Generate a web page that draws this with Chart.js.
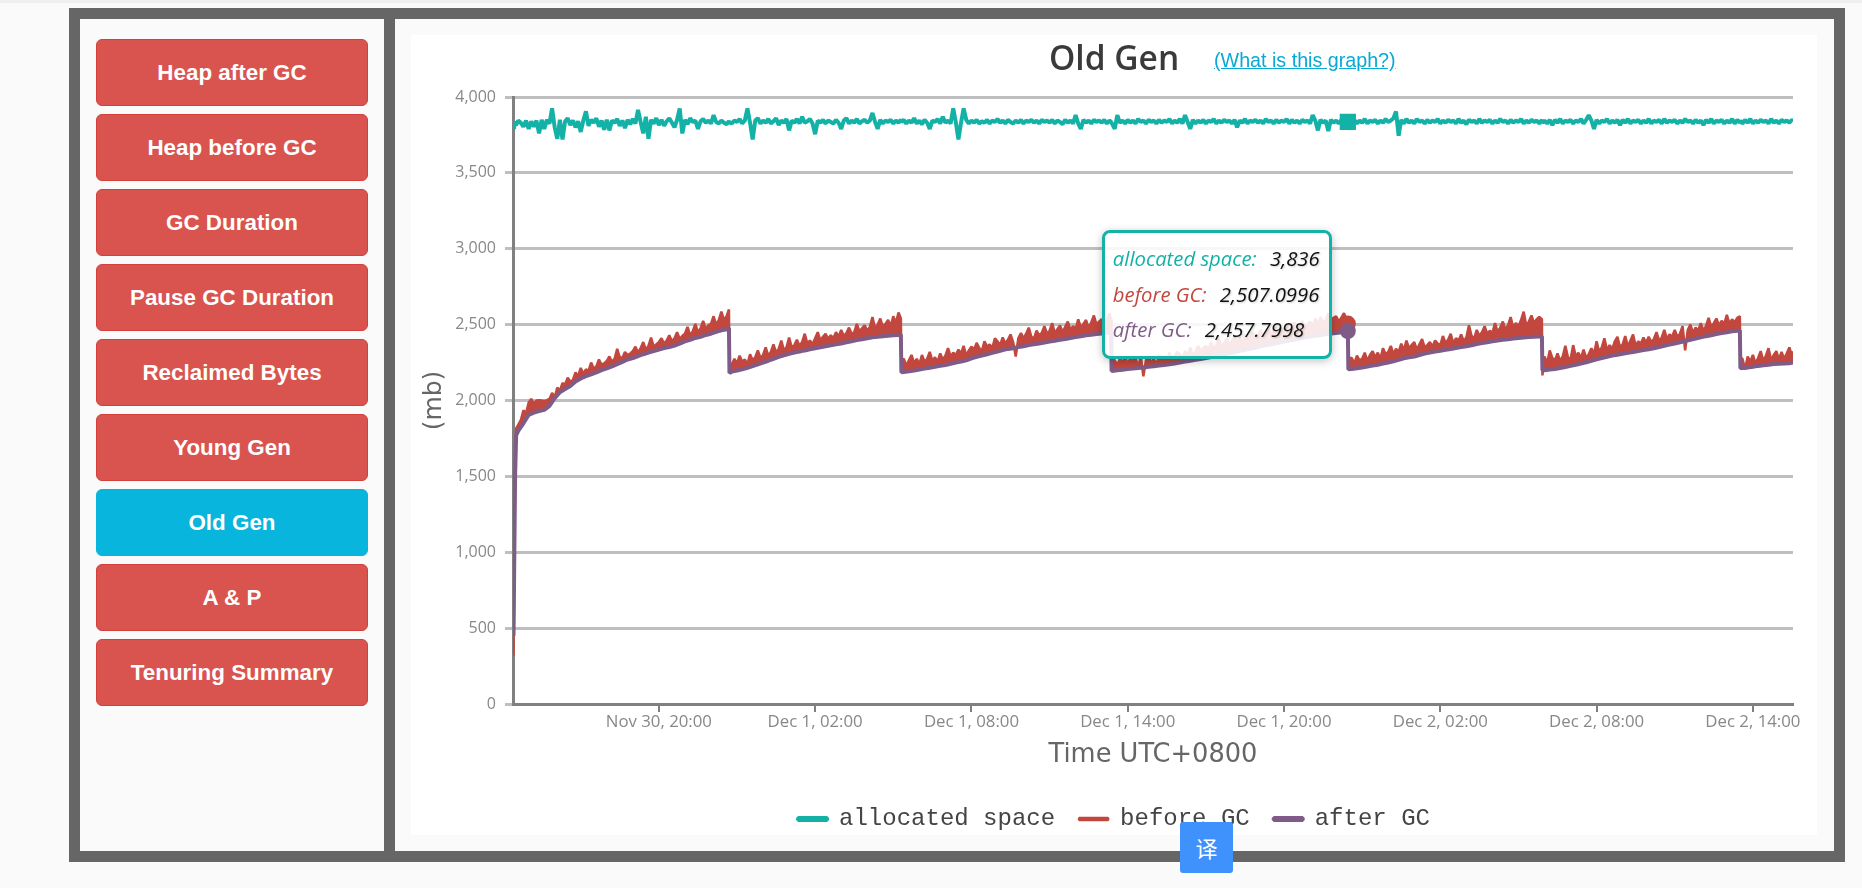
<!DOCTYPE html>
<html>
<head>
<meta charset="utf-8">
<title>Old Gen</title>
<script src="https://cdn.jsdelivr.net/npm/chart.js@4/dist/chart.umd.min.js"></script>
<style>
  html, body { margin: 0; padding: 0; width: 1862px; height: 888px; overflow: hidden; background: #fafafa; }
  #topStrip { position: absolute; left: 0; top: 0; width: 1862px; height: 3px; background: #efefef; }
  #frame { position: absolute; left: 69px; top: 8px; width: 1776px; height: 854px; background: #666; }
  #sidePanel { position: absolute; left: 80px; top: 19px; width: 304px; height: 832px; background: #fafafa; }
  #mainPanel { position: absolute; left: 395px; top: 19px; width: 1439px; height: 832px; background: #fafafa; }
  #chartPanel { position: absolute; left: 411px; top: 35px; width: 1406px; height: 800px; background: #fff; }
  #chartWrap { position: absolute; left: 411px; top: 35px; width: 1406px; height: 806px; }
  .btn {
    position: absolute; left: 96px; width: 272px; height: 67px; box-sizing: border-box;
    background: #d9534f; border: 1px solid #d43f3a; border-radius: 6px; color: #fff;
    font: bold 22.4px "Liberation Sans", Arial, sans-serif; line-height: 66px; text-align: center;
  }
  .btn.active { background: #08b5dd; border-color: #08b5dd; }
  #title { position: absolute; left: 1049px; top: 34px; color: #3a3a3a; font: 600 33.5px "Open Sans", sans-serif; line-height: 46px; }
  #whatLink { position: absolute; left: 1214px; top: 49px; color: #08a9d6; font: 19.7px "Liberation Sans", Arial, sans-serif; line-height: 22px; text-decoration: underline; }
  #tip {
    position: absolute; top: 230px; width: 230px; height: 129px; box-sizing: border-box; padding: 8px 0 0 8px;
    background: rgba(255, 255, 255, 0.88); border: 3px solid #14b1a7; border-radius: 8px;
    box-shadow: 0 2px 8px rgba(0, 0, 0, 0.25); font: italic 20.3px "Open Sans", sans-serif; line-height: 35.5px; white-space: nowrap;
  }
  #tip b { font-weight: normal; color: #111; margin-left: 8px; text-shadow: 1px 1px 2px rgba(0, 0, 0, 0.2); }
  #translate {
    position: absolute; left: 1180px; top: 822px; width: 53px; height: 51px; background: #3f92fb; border-radius: 3px;
    color: #fff; font: 22px "Noto Sans CJK SC", sans-serif; line-height: 51px; text-align: center;
  }
</style>
</head>
<body>
<div id="topStrip"></div>
<div id="frame"></div>
<div id="sidePanel"></div>
<div id="mainPanel"></div>
<div id="chartPanel"></div>
<div id="buttons"></div>
<div id="chartWrap"><canvas id="old-gen-chart" width="1406" height="806"></canvas></div>
<div id="title">Old Gen</div>
<a id="whatLink">(What is this graph?)</a>
<div id="tip"></div>
<div id="translate">译</div>

<script>
const menuItems = ['Heap after GC', 'Heap before GC', 'GC Duration', 'Pause GC Duration', 'Reclaimed Bytes', 'Young Gen', 'Old Gen', 'A & P', 'Tenuring Summary'];

// hours since Nov 30 00:00, used by allocatedSpace and beforeGC
const gcHours = [
  14.42,14.44,14.48,14.52,14.6,14.7,14.8,14.9,
  15,15.1,15.2,15.3,15.4,15.5,15.6,15.7,15.8,15.9,
  16,16.1,16.2,16.3,16.4,16.5,16.6,16.7,16.8,16.9,
  17,17.1,17.2,17.3,17.4,17.5,17.6,17.7,17.8,17.9,
  18,18.1,18.2,18.3,18.4,18.5,18.6,18.7,18.8,18.9,
  19,19.1,19.2,19.3,19.4,19.5,19.6,19.7,19.8,19.9,
  20,20.1,20.2,20.3,20.4,20.5,20.6,20.7,20.8,20.9,
  21,21.1,21.2,21.3,21.4,21.5,21.6,21.7,21.8,21.9,
  22,22.1,22.2,22.3,22.4,22.5,22.6,22.69,22.71,
  22.8,22.9,
  23,23.1,23.2,23.3,23.4,23.5,23.6,23.7,23.8,23.9,
  24,24.1,24.2,24.3,24.4,24.5,24.6,24.7,24.8,24.9,
  25,25.1,25.2,25.3,25.4,25.5,25.6,25.7,25.8,25.9,
  26,26.1,26.2,26.3,26.4,26.5,26.6,26.7,26.8,26.9,
  27,27.1,27.2,27.3,27.4,27.5,27.6,27.7,27.8,27.9,
  28,28.1,28.2,28.3,28.4,28.5,28.6,28.7,28.8,28.9,
  29,29.1,29.2,29.29,29.31,
  29.4,29.5,29.6,29.7,29.8,29.9,
  30,30.1,30.2,30.3,30.4,30.5,30.6,30.7,30.8,30.9,
  31,31.1,31.2,31.3,31.4,31.5,31.6,31.7,31.8,31.9,
  32,32.1,32.2,32.3,32.4,32.5,32.6,32.7,32.8,32.9,
  33,33.1,33.2,33.3,33.4,33.5,33.6,33.7,33.8,33.9,
  34,34.1,34.2,34.3,34.4,34.5,34.6,34.7,34.8,34.9,
  35,35.1,35.2,35.3,35.4,35.5,35.6,35.7,35.8,35.9,
  36,36.1,36.2,36.3,36.4,36.5,36.6,36.7,36.8,36.9,
  37,37.1,37.2,37.3,37.36,37.38,
  37.5,37.6,37.7,37.8,37.9,
  38,38.1,38.2,38.3,38.4,38.5,38.6,38.7,38.8,38.9,
  39,39.1,39.2,39.3,39.4,39.5,39.6,39.7,39.8,39.9,
  40,40.1,40.2,40.3,40.4,40.5,40.6,40.7,40.8,40.9,
  41,41.1,41.2,41.3,41.4,41.5,41.6,41.7,41.8,41.9,
  42,42.1,42.2,42.3,42.4,42.5,42.6,42.7,42.8,42.9,
  43,43.1,43.2,43.3,43.4,43.5,43.6,43.7,43.8,43.9,
  44,44.1,44.2,44.3,44.4,44.5,44.6,44.7,44.8,44.9,
  45,45.1,45.2,45.3,45.4,45.5,45.6,45.7,45.8,45.9,
  46,46.1,46.2,46.3,46.4,46.45,46.47,
  46.6,46.7,46.8,46.9,
  47,47.1,47.2,47.3,47.4,47.5,47.6,47.7,47.8,47.9,
  48,48.1,48.2,48.3,48.4,48.5,48.6,48.7,48.8,48.9,
  49,49.1,49.2,49.3,49.4,49.5,49.6,49.7,49.8,49.9,
  50,50.1,50.2,50.3,50.4,50.5,50.6,50.7,50.8,50.9,
  51,51.1,51.2,51.3,51.4,51.5,51.6,51.7,51.8,51.9,
  52,52.1,52.2,52.3,52.4,52.5,52.6,52.7,52.8,52.9,
  53,53.1,53.2,53.3,53.4,53.5,53.6,53.7,53.8,53.9,53.92,
  54,54.1,54.2,54.3,54.4,54.5,54.6,54.7,54.8,54.9,
  55,55.1,55.2,55.3,55.4,55.5,55.6,55.7,55.8,55.9,
  56,56.1,56.2,56.3,56.4,56.5,56.6,56.7,56.8,56.9,
  57,57.1,57.2,57.3,57.4,57.5,57.6,57.7,57.8,57.9,
  58,58.1,58.2,58.3,58.4,58.5,58.6,58.7,58.8,58.9,
  59,59.1,59.2,59.3,59.4,59.5,59.6,59.7,59.8,59.9,
  60,60.1,60.2,60.3,60.4,60.5,60.6,60.7,60.8,60.9,
  61,61.1,61.2,61.3,61.4,61.5,61.52,
  61.6,61.7,61.8,61.9,
  62,62.1,62.2,62.3,62.4,62.5,62.6,62.7,62.8,62.9,
  63,63.1,63.2,63.3,63.4,63.5,63.54
];

const allocatedSpace = [
  3830,3790,3840,3815,3845,3830,3805,3845,
  3790,3840,3805,3845,3760,3850,3790,3850,3825,3925,
  3800,3725,3850,3720,3840,3860,3815,3845,3800,3840,
  3770,3845,3905,3810,3850,3830,3860,3805,3845,3785,
  3850,3780,3845,3830,3855,3810,3845,3795,3850,3820,
  3855,3825,3915,3835,3760,3870,3725,3850,3825,3860,
  3815,3850,3810,3840,3860,3830,3800,3850,3925,3760,
  3850,3820,3860,3835,3845,3790,3840,3855,3830,3845,
  3825,3880,3835,3825,3845,3830,3820,3840,3835,
  3825,3845,
  3835,3855,3825,3845,3925,3830,3720,3845,3860,3825,
  3845,3830,3855,3825,3840,3860,3815,3845,3830,3855,
  3780,3845,3830,3855,3825,3870,3830,3840,3855,3825,
  3755,3845,3830,3850,3825,3845,3835,3825,3850,3830,
  3790,3845,3860,3825,3845,3830,3855,3825,3840,3850,
  3830,3845,3895,3835,3790,3850,3825,3845,3835,3850,
  3825,3845,3830,3850,3835,
  3850,3825,3845,3830,3860,3825,
  3845,3820,3850,3830,3790,3845,3835,3855,3825,3870,
  3830,3845,3825,3925,3835,3720,3830,3925,3850,3825,
  3845,3830,3850,3825,3840,3830,3850,3825,3845,3835,
  3855,3830,3845,3825,3850,3835,3825,3845,3830,3850,
  3825,3845,3835,3850,3830,3845,3825,3850,3835,3845,
  3830,3850,3825,3845,3835,3820,3850,3830,3845,3825,
  3880,3825,3790,3850,3830,3845,3825,3850,3835,3845,
  3830,3850,3825,3845,3835,3830,
  3790,3880,3830,3845,3825,
  3850,3830,3845,3825,3855,3835,3845,3825,3850,3835,
  3845,3825,3850,3830,3845,3835,3855,3825,3845,3830,
  3855,3825,3880,3835,3790,3850,3825,3845,3830,3850,
  3825,3845,3835,3855,3825,3845,3830,3850,3835,3845,
  3825,3850,3800,3845,3830,3855,3825,3845,3835,3850,
  3830,3845,3825,3855,3835,3845,3825,3850,3830,3845,
  3835,3855,3825,3850,3830,3845,3825,3850,3835,3845,
  3825,3880,3845,3780,3850,3830,3845,3775,3850,3830,
  3845,3825,3850,3830,3845,3836,3845,
  3830,3850,3825,3845,
  3830,3855,3825,3845,3835,3850,3825,3845,3830,3855,
  3835,3845,3860,3905,3745,3850,3825,3855,3830,3845,
  3825,3855,3835,3845,3825,3850,3830,3845,3835,3855,
  3825,3845,3830,3850,3835,3845,3825,3855,3830,3845,
  3820,3850,3835,3845,3825,3855,3830,3845,3835,3850,
  3825,3845,3830,3855,3835,3845,3825,3850,3830,3845,
  3835,3855,3825,3845,3830,3850,3835,3845,3825,3850,3830,
  3845,3825,3850,3815,3850,3830,3855,3825,3845,3835,
  3850,3825,3845,3835,3855,3825,3850,3880,3845,3790,
  3850,3825,3845,3835,3855,3825,3845,3830,3850,3815,
  3850,3830,3855,3825,3845,3835,3850,3825,3845,3830,
  3855,3825,3845,3835,3850,3825,3855,3830,3845,3835,
  3850,3825,3845,3830,3855,3835,3845,3825,3850,3830,
  3845,3815,3850,3830,3855,3825,3845,3835,3850,3825,
  3845,3830,3855,3825,3850,3830,3845,
  3825,3850,3830,3855,
  3825,3845,3830,3850,3835,3845,3825,3855,3830,3845,
  3825,3850,3835,3845,3830,3850,3840
];

const beforeGC = [
  320,700,1600,1815,1840,1870,1935,1915,
  1985,2010,1980,2000,2002,2000,1995,2002,2010,2050,
  2020,2085,2065,2115,2105,2150,2125,2135,2185,2160,
  2215,2175,2205,2195,2250,2210,2225,2270,2235,2245,
  2260,2290,2255,2275,2340,2285,2280,2320,2300,2310,
  2325,2355,2315,2345,2385,2335,2360,2415,2355,2370,
  2385,2410,2375,2395,2430,2390,2410,2450,2405,2425,
  2440,2485,2430,2455,2505,2450,2475,2525,2470,2495,
  2505,2555,2500,2530,2585,2530,2555,2600,2250,
  2235,2275,
  2245,2295,2255,2270,2240,2305,2265,2285,2330,2280,
  2300,2350,2295,2320,2370,2315,2340,2395,2330,2350,
  2415,2350,2365,2400,2360,2385,2440,2375,2395,2370,
  2410,2450,2395,2420,2440,2405,2430,2410,2450,2420,
  2465,2425,2445,2480,2440,2450,2505,2455,2475,2495,
  2460,2485,2550,2475,2500,2540,2485,2505,2530,2490,
  2555,2510,2580,2540,2260,
  2275,2230,2265,2300,2245,2275,
  2240,2300,2255,2275,2320,2260,2285,2255,2310,2270,
  2295,2345,2290,2315,2300,2335,2310,2360,2295,2330,
  2355,2335,2380,2345,2325,2390,2355,2370,2345,2410,
  2390,2365,2415,2375,2400,2435,2385,2290,2410,2445,
  2410,2440,2480,2420,2410,2460,2430,2445,2490,2440,
  2460,2510,2445,2470,2495,2450,2485,2520,2465,2490,
  2470,2535,2480,2505,2530,2475,2515,2560,2500,2520,
  2535,2500,2530,2575,2535,2270,
  2265,2235,2275,2250,2290,
  2240,2280,2255,2285,2215,2295,2160,2265,2290,2250,
  2275,2235,2300,2265,2285,2255,2315,2280,2295,2320,
  2305,2285,2325,2300,2350,2300,2320,2360,2325,2345,
  2360,2335,2385,2340,2365,2400,2355,2380,2410,2365,
  2395,2420,2375,2415,2370,2435,2390,2410,2450,2410,
  2430,2465,2415,2445,2480,2430,2460,2485,2445,2470,
  2460,2500,2450,2490,2515,2465,2490,2525,2480,2500,
  2520,2485,2540,2500,2550,2510,2530,2575,2520,2545,
  2555,2520,2545,2575,2535,2507.0996,2280,
  2280,2245,2295,2265,
  2275,2315,2260,2300,2325,2285,2315,2275,2345,2305,
  2320,2360,2305,2340,2320,2375,2330,2395,2345,2365,
  2385,2335,2370,2405,2350,2365,2385,2355,2395,2375,
  2365,2425,2380,2400,2440,2375,2410,2395,2435,2390,
  2415,2495,2425,2410,2465,2425,2450,2490,2440,2460,
  2445,2510,2450,2480,2520,2465,2495,2550,2480,2510,
  2490,2530,2585,2495,2520,2560,2510,2535,2550,2535,2165,
  2290,2245,2330,2280,2265,2310,2260,2290,2360,2285,
  2270,2365,2290,2315,2280,2335,2280,2305,2345,2305,
  2390,2320,2350,2410,2330,2365,2340,2390,2420,2350,
  2370,2425,2355,2395,2435,2360,2390,2375,2415,2380,
  2420,2385,2405,2450,2395,2415,2465,2405,2435,2420,
  2465,2420,2440,2490,2330,2465,2500,2445,2480,2460,
  2510,2460,2490,2545,2485,2510,2540,2495,2525,2505,
  2565,2505,2535,2515,2545,2555,2280,
  2275,2205,2290,2255,
  2300,2245,2280,2325,2260,2295,2345,2265,2300,2325,
  2270,2320,2275,2310,2350,2295,2325
];

const afterHours = [
  14.42,14.44,14.48,14.52,14.6,14.8,15,15.2,15.4,15.6,
  15.8,16,16.2,16.4,16.6,16.8,17,17.2,17.4,17.6,
  17.8,18,18.2,18.4,18.6,18.8,19,19.2,19.4,19.6,
  19.8,20,20.2,20.4,20.6,20.8,21,21.2,21.4,21.6,
  21.8,22,22.2,22.4,22.6,22.69,22.71,
  22.8,23,23.2,23.4,23.6,23.8,24,24.2,24.4,24.6,
  24.8,25,25.2,25.4,25.6,25.8,26,26.2,26.4,26.6,
  26.8,27,27.2,27.4,27.6,27.8,28,28.2,28.4,28.6,
  28.8,29,29.2,29.29,29.31,
  29.4,29.6,29.8,30,30.2,30.4,30.6,30.8,31,31.2,
  31.4,31.6,31.8,32,32.2,32.4,32.6,32.8,33,33.2,
  33.4,33.6,33.8,34,34.2,34.4,34.6,34.8,35,35.2,
  35.4,35.6,35.8,36,36.2,36.4,36.6,36.8,37,37.2,
  37.36,37.38,
  37.6,37.8,38,38.2,38.4,38.6,38.8,39,39.2,39.4,
  39.6,39.8,40,40.2,40.4,40.6,40.8,41,41.2,41.4,
  41.6,41.8,42,42.2,42.4,42.6,42.8,43,43.2,43.4,
  43.6,43.8,44,44.2,44.4,44.6,44.8,45,45.2,45.4,
  45.6,45.8,46,46.2,46.4,46.45,46.47,
  46.6,46.8,47,47.2,47.4,47.6,47.8,48,48.2,48.4,
  48.6,48.8,49,49.2,49.4,49.6,49.8,50,50.2,50.4,
  50.6,50.8,51,51.2,51.4,51.6,51.8,52,52.2,52.4,
  52.6,52.8,53,53.2,53.4,53.6,53.8,53.9,53.92,
  54,54.2,54.4,54.6,54.8,55,55.2,55.4,55.6,55.8,
  56,56.2,56.4,56.6,56.8,57,57.2,57.4,57.6,57.8,
  58,58.2,58.4,58.6,58.8,59,59.2,59.4,59.6,59.8,
  60,60.2,60.4,60.6,60.8,61,61.2,61.4,61.5,61.52,
  61.6,61.8,62,62.2,62.4,62.6,62.8,63,63.2,63.4,63.54
];

const afterGC = [
  450,800,1500,1770,1800,1850,1905,1920,1930,1938,
  1965,2015,2055,2075,2095,2125,2145,2160,2172,2185,
  2200,2212,2225,2240,2255,2270,2280,2293,2305,2315,
  2325,2335,2345,2352,2362,2375,2390,2400,2412,2420,
  2432,2440,2452,2462,2470,2478,2182,
  2190,2198,2206,2215,2226,2238,2250,2262,2275,2288,
  2298,2308,2316,2322,2330,2337,2344,2350,2357,2364,
  2370,2376,2384,2390,2398,2404,2410,2416,2420,2424,
  2427,2430,2432,2434,2186,
  2188,2192,2197,2204,2210,2216,2222,2228,2234,2242,
  2250,2256,2265,2278,2288,2296,2305,2314,2322,2332,
  2340,2345,2352,2358,2365,2370,2376,2382,2388,2394,
  2400,2405,2412,2418,2424,2430,2434,2438,2442,2445,
  2450,2195,
  2200,2203,2207,2210,2214,2218,2222,2225,2230,2234,
  2238,2244,2250,2256,2262,2268,2274,2280,2287,2294,
  2300,2307,2314,2322,2330,2337,2344,2352,2360,2367,
  2374,2381,2388,2395,2402,2408,2415,2421,2427,2432,
  2437,2441,2445,2450,2454,2457.7998,2205,
  2208,2212,2218,2224,2230,2236,2243,2250,2258,2268,
  2278,2284,2290,2300,2310,2316,2322,2328,2334,2340,
  2346,2352,2358,2364,2372,2378,2384,2390,2395,2400,
  2404,2408,2412,2415,2418,2420,2422,2424,2200,
  2200,2204,2208,2214,2220,2228,2236,2244,2252,2262,
  2272,2280,2288,2296,2302,2308,2314,2320,2326,2332,
  2338,2344,2352,2360,2368,2376,2384,2392,2400,2408,
  2416,2424,2430,2438,2444,2450,2456,2460,2462,2212,
  2214,2218,2222,2228,2232,2236,2240,2242,2244,2246,2250
];

const xTickHours = [20, 26, 32, 38, 44, 50, 56, 62];
const xTickLabels = ['Nov 30, 20:00', 'Dec 1, 02:00', 'Dec 1, 08:00', 'Dec 1, 14:00', 'Dec 1, 20:00', 'Dec 2, 02:00', 'Dec 2, 08:00', 'Dec 2, 14:00'];
const hoveredHour = 46.45;

const teal = '#14b1a7';
const red = '#c1473f';
const purple = '#7e5c87';

menuItems.forEach((name, i) => {
  const btn = document.createElement('div');
  btn.className = name === 'Old Gen' ? 'btn active' : 'btn';
  btn.style.top = (39 + i * 75) + 'px';
  btn.textContent = name;
  document.getElementById('buttons').appendChild(btn);
});

function drawTip(context) {
  const tip = document.getElementById('tip');
  const tooltip = context.tooltip;
  if (!tooltip.dataPoints) return;
  tip.innerHTML = tooltip.dataPoints.map(p =>
    '<div style="color:' + p.dataset.borderColor + '">' + p.dataset.label + ': <b>' +
    p.parsed.y.toLocaleString('en-US', { maximumFractionDigits: 4 }) + '</b></div>').join('');
  tip.style.left = (411 + tooltip.caretX - 246) + 'px';
}

function series(label, hours, values, color, width, order, pointStyle, hoverRadius) {
  return {
    label: label,
    data: values.map((y, i) => ({ x: hours[i], y: y })),
    borderColor: color,
    backgroundColor: color,
    borderWidth: width,
    borderJoinStyle: 'bevel',
    tension: 0,
    order: order,
    pointRadius: 0,
    pointStyle: pointStyle,
    pointHoverRadius: hoverRadius,
    pointHoverBackgroundColor: color,
    pointHoverBorderColor: color,
    pointHoverBorderWidth: 0
  };
}

// the before GC band is solid down to the after GC line
const beforeSeries = series('before GC', gcHours, beforeGC, red, 2.5, 2, 'circle', 8);
beforeSeries.fill = { target: 2, above: red, below: red };

const chart = new Chart(document.getElementById('old-gen-chart').getContext('2d'), {
  type: 'line',
  data: {
    datasets: [
      series('allocated space', gcHours, allocatedSpace, teal, 4, 3, 'rect', 11.5),
      beforeSeries,
      series('after GC', afterHours, afterGC, purple, 4, 1, 'circle', 8)
    ]
  },
  options: {
    responsive: false,
    animation: false,
    events: [],
    layout: { padding: { top: 62, right: 24, left: 24 } },
    plugins: {
      legend: {
        position: 'bottom',
        labels: {
          boxWidth: 29,
          boxHeight: 2,
          padding: 24,
          color: '#444',
          font: { family: '"Liberation Mono", monospace', size: 24 },
          sort: (a, b) => a.datasetIndex - b.datasetIndex
        }
      },
      tooltip: { enabled: false, mode: 'index', external: drawTip }
    },
    scales: {
      x: {
        type: 'linear',
        min: 14.4,
        max: 63.54,
        afterBuildTicks: scale => { scale.ticks = xTickHours.map(h => ({ value: h })); },
        afterFit: scale => { scale.height = 79; },
        ticks: {
          autoSkip: false,
          maxRotation: 0,
          color: '#888',
          font: { family: '"Open Sans", sans-serif', size: 16.8 },
          padding: 0,
          callback: (value, i) => xTickLabels[i]
        },
        grid: { drawOnChartArea: false, tickColor: '#808080', tickLength: 8, lineWidth: 2 },
        border: { color: '#808080', width: 3 },
        title: {
          display: true,
          text: 'Time UTC+0800',
          color: '#666',
          font: { family: '"DejaVu Sans", sans-serif', size: 25.7 },
          padding: { top: 2, bottom: 12 }
        }
      },
      y: {
        min: 0,
        max: 4000,
        afterFit: scale => { scale.width = 78; },
        ticks: {
          stepSize: 500,
          color: '#888',
          font: { family: '"Open Sans", sans-serif', size: 16 },
          padding: 9,
          callback: value => value.toLocaleString('en-US')
        },
        grid: { color: '#bfbfbf', lineWidth: 3, tickColor: '#bfbfbf', tickLength: 8 },
        border: { color: '#808080', width: 3 },
        title: {
          display: true,
          text: '(mb)',
          color: '#666',
          font: { family: '"DejaVu Sans", sans-serif', size: 25 },
          padding: { top: -16, bottom: 0 }
        }
      }
    }
  }
});

function activeAt(datasetIndex, hours) {
  return { datasetIndex: datasetIndex, index: hours.indexOf(hoveredHour) };
}

const active = [activeAt(0, gcHours), activeAt(1, gcHours), activeAt(2, afterHours)];
const anchor = chart.getDatasetMeta(1).data[active[1].index];
chart.setActiveElements(active);
chart.tooltip.setActiveElements(active, { x: anchor.x, y: anchor.y });
chart.render();
</script>
</body>
</html>
